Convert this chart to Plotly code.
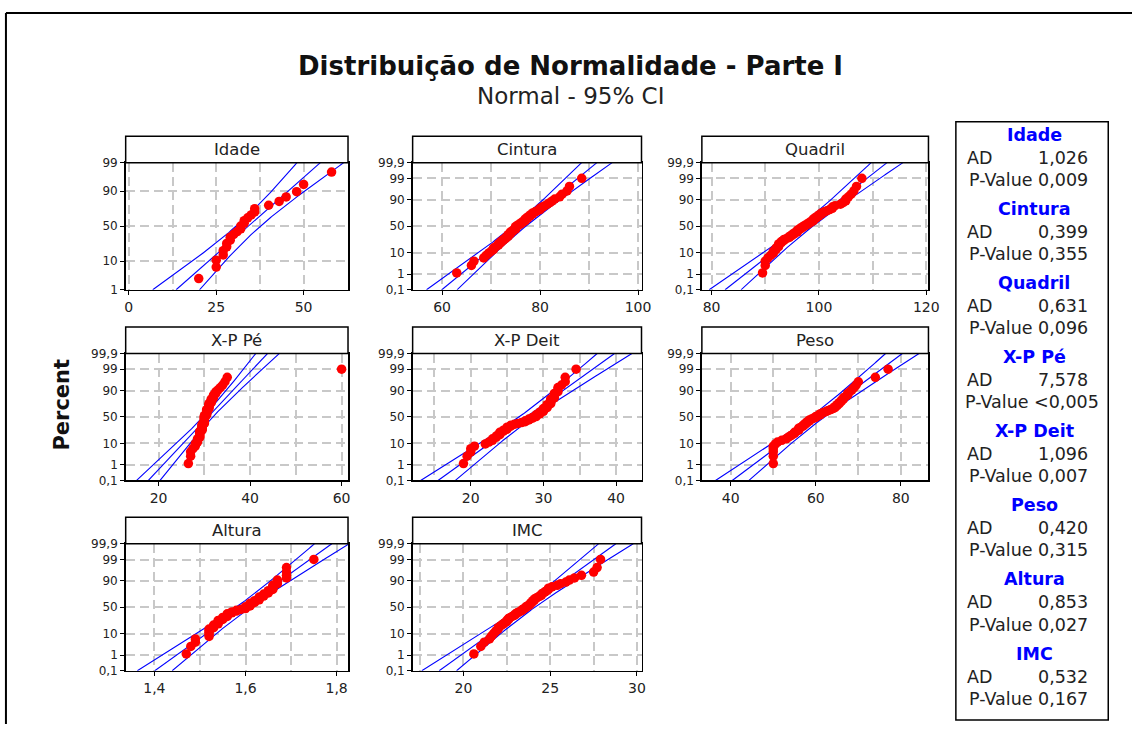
import math
import plotly.graph_objects as go

W, H = 1143, 731

titles = ["Idade", "Cintura", "Quadril", "X-P Pé", "X-P Deit", "Peso", "Altura", "IMC"]

idade = [20, 25, 25, 27, 27, 28, 28, 29, 29, 30, 31, 32, 32, 33, 33, 34, 35, 36, 36,
         40, 43, 45, 48, 50, 58]

cintura = [63, 66, 66.5, 68.5, 69, 69.5, 70, 70.5, 70.5, 71, 71.5, 71.5, 72, 72, 72.5,
           72.5, 73, 73, 73.5, 73.5, 73.5, 74, 74, 74, 74.5, 74.5, 75, 75, 75, 75,
           75.5, 75.5, 76, 76, 76.5, 76.5, 77, 77, 77, 77.5, 77.5, 78, 78, 78.5, 78.5,
           79, 79.5, 80, 80, 80.5, 81, 81.5, 82, 82.5, 83, 84, 84.5, 85.5, 86, 88.5]

quadril = [89.5, 90, 90, 90.5, 91, 91.5, 91.5, 92, 92, 92.5, 92.5, 92.5, 93, 93, 93.5,
           93.5, 94, 94.5, 94.5, 95, 95, 95.5, 95.5, 96, 96, 96, 96.5, 96.5, 97, 97,
           97.5, 97.5, 98, 98, 98.5, 98.5, 99, 99, 99, 99.5, 99.5, 100, 100, 100.5,
           100.5, 101, 101.5, 102, 102.5, 102.5, 103, 104, 104.5, 105, 105, 105.5, 106,
           106.5, 107, 108]

xp_pe = [26.5, 27, 27, 27.5, 28, 28, 28.5, 28.5, 28.5, 29, 29, 29, 29, 29, 29, 29.5,
         29.5, 29.5, 29.5, 29.5, 29.5, 29.5, 30, 30, 30, 30, 30, 30, 30, 30, 30, 30,
         30.5, 30.5, 30.5, 30.5, 30.5, 30.5, 30.5, 31, 31, 31, 31, 31, 31, 31.5, 31.5,
         31.5, 31.5, 32, 32, 32, 32.5, 32.5, 33, 33.5, 34, 34.5, 35, 60]

xp_deit = [19, 19.5, 20, 20, 20.5, 22, 22.5, 23, 23, 23.5, 23.5, 24, 24, 24, 24.5,
           24.5, 25, 25, 25, 25.5, 25.5, 26, 26.5, 27, 27.5, 27.5, 28, 28, 28.5, 28.5,
           29, 29, 29, 29.5, 29.5, 29.5, 30, 30, 30, 30, 30.5, 30.5, 30.5, 30.5, 31,
           31, 31, 31, 31, 31.5, 31.5, 31.5, 31.5, 32, 32, 32, 32.5, 33, 33, 34.5]

peso = [50, 50, 50, 50, 50, 50.5, 51, 52, 53, 53.5, 54, 54.5, 55, 55, 55.5, 56, 56,
        56, 56.5, 57, 57, 57.5, 57.5, 58, 58, 58.5, 58.5, 59, 59.5, 60, 60, 60.5, 61,
        61, 61.5, 62, 62.5, 63, 63.5, 64, 64.5, 64.5, 65, 65, 65.5, 65.5, 66, 66,
        66.5, 66.5, 67, 67.5, 67.5, 68, 68.5, 69, 69.5, 70, 74, 77]

altura = [1.47, 1.48, 1.49, 1.49, 1.52, 1.52, 1.52, 1.52, 1.52, 1.53, 1.53, 1.53, 1.54,
          1.54, 1.54, 1.54, 1.55, 1.55, 1.55, 1.56, 1.56, 1.56, 1.56, 1.57, 1.57, 1.58,
          1.58, 1.59, 1.60, 1.60, 1.60, 1.61, 1.61, 1.61, 1.61, 1.62, 1.62, 1.62, 1.63,
          1.63, 1.63, 1.63, 1.64, 1.64, 1.64, 1.65, 1.65, 1.65, 1.66, 1.66, 1.66, 1.66,
          1.67, 1.67, 1.67, 1.69, 1.69, 1.69, 1.69, 1.75]

imc = [20.6, 21.0, 21.2, 21.5, 21.6, 21.7, 21.8, 21.9, 22.0, 22.0, 22.1, 22.2, 22.3,
       22.4, 22.5, 22.5, 22.6, 22.6, 22.7, 22.8, 22.9, 23.0, 23.0, 23.1, 23.2, 23.3,
       23.4, 23.4, 23.5, 23.6, 23.6, 23.7, 23.8, 23.8, 23.9, 23.9, 24.0, 24.0, 24.1,
       24.1, 24.2, 24.3, 24.4, 24.5, 24.5, 24.6, 24.7, 24.8, 24.9, 24.9, 25.1, 25.4,
       25.6, 25.9, 26.1, 26.4, 26.8, 27.5, 27.7, 27.9]

ad_values = ["1,026", "0,399", "0,631", "7,578", "1,096", "0,420", "0,853", "0,532"]
p_values = ["0,009", "0,355", "0,096", "<0,005", "0,007", "0,315", "0,027", "0,167"]

x_ticks = [[0, 25, 50], [60, 80, 100], [80, 100, 120], [20, 40, 60],
           [20, 30, 40], [40, 60, 80], [1.4, 1.6, 1.8], [20, 25, 30]]
pct_ticks_full = [0.1, 1, 10, 50, 90, 99, 99.9]
pct_ticks_short = [1, 10, 50, 90, 99]

series = [idade, cintura, quadril, xp_pe, xp_deit, peso, altura, imc]

# ---------------- layout settings (pixel geometry) ----------------
x_ranges = [[-0.9, 62.7], [54.0, 100.7], [78.2, 120.4], [12.8, 61.4],
            [12.0, 43.5], [33.2, 86.5], [1.337, 1.825], [17.07, 30.26]]
col_px = [(126, 350.7), (416, 647.3), (708.3, 937.3)]
row_px = [(158.7, 288.3), (353.3, 482.7), (547.3, 676.7)]
HEADER_H = 27

FONT = "Tahoma, 'DejaVu Sans', Verdana, sans-serif"
BLUE = "#0000FF"
RED = "#FF0000"
GRID = "#C8C8C8"
GRID_DASH = "9px,5px"


def norm_ppf(p):
    a = [-3.969683028665376e+01, 2.209460984245205e+02, -2.759285104469687e+02,
         1.383577518672690e+02, -3.066479806614716e+01, 2.506628277459239e+00]
    b = [-5.447609879822406e+01, 1.615858368580409e+02, -1.556989798598866e+02,
         6.680131188771972e+01, -1.328068155288572e+01]
    c = [-7.784894002430293e-03, -3.223964580411365e-01, -2.400758277161838e+00,
         -2.549671010243244e+00, 4.374664141464968e+00, 2.938163982698783e+00]
    d = [7.784695709041462e-03, 3.224671290700398e-01, 2.445134137142996e+00,
         3.754408661907416e+00]
    plow = 0.02425
    if p < plow:
        q = math.sqrt(-2 * math.log(p))
        return (((((c[0]*q+c[1])*q+c[2])*q+c[3])*q+c[4])*q+c[5]) / \
               ((((d[0]*q+d[1])*q+d[2])*q+d[3])*q+1)
    if p <= 1 - plow:
        q = p - 0.5
        r = q * q
        return (((((a[0]*r+a[1])*r+a[2])*r+a[3])*r+a[4])*r+a[5])*q / \
               (((((b[0]*r+b[1])*r+b[2])*r+b[3])*r+b[4])*r+1)
    q = math.sqrt(-2 * math.log(1 - p))
    return -(((((c[0]*q+c[1])*q+c[2])*q+c[3])*q+c[4])*q+c[5]) / \
            ((((d[0]*q+d[1])*q+d[2])*q+d[3])*q+1)


def fmt_num(v):
    return ("%g" % v).replace(".", ",")


def px_x(px):
    return px / W


def px_y(py):
    return 1 - py / H


fig = go.Figure()
shapes = []
annotations = []

for k, (name, data) in enumerate(zip(titles, series)):
    r, c = divmod(k, 3)
    ax = "" if k == 0 else str(k + 1)
    xa, ya = "x" + ax, "y" + ax
    vals = sorted(data)
    n = len(vals)
    # median-rank plotting positions (Benard)
    zs = [norm_ppf((i + 1 - 0.3) / (n + 0.3)) for i in range(n)]
    mean = sum(vals) / n
    sd = math.sqrt(sum((v - mean) ** 2 for v in vals) / (n - 1))

    pticks = pct_ticks_short if k == 0 else pct_ticks_full
    zlo, zhi = norm_ppf(pticks[0] / 100), norm_ppf(pticks[-1] / 100)

    zgrid = [zlo + (zhi - zlo) * j / 120 for j in range(121)]
    center = [mean + sd * z for z in zgrid]
    half = [1.96 * sd * math.sqrt((1 + z * z / 2) / n) for z in zgrid]
    lower = [cc - h for cc, h in zip(center, half)]
    upper = [cc + h for cc, h in zip(center, half)]

    for xs in (lower, center, upper):
        fig.add_trace(go.Scatter(x=xs, y=zgrid, mode="lines", xaxis=xa, yaxis=ya,
                                 line=dict(color=BLUE, width=1.1), showlegend=False,
                                 hoverinfo="skip"))
    fig.add_trace(go.Scatter(x=vals, y=zs, mode="markers", xaxis=xa, yaxis=ya,
                             marker=dict(color=RED, size=9.5, line=dict(width=0)),
                             showlegend=False))

    x0, x1 = col_px[c]
    y0, y1 = row_px[r]
    grid = dict(showgrid=True, gridcolor=GRID, gridwidth=2, griddash=GRID_DASH)
    xt = x_ticks[k]
    step = (xt[1] - xt[0]) / 2
    fig.layout["xaxis" + ax] = dict(
        domain=[px_x(x0), px_x(x1)], anchor=ya, range=x_ranges[k],
        tickvals=xt, ticktext=[fmt_num(v) for v in xt],
        ticks="outside", ticklen=4, tickcolor="black", tickwidth=1,
        showline=True, mirror=True, linecolor="black", linewidth=1.5,
        zeroline=False, tickfont=dict(family=FONT, size=14, color="#222"),
        minor=dict(dtick=step, tick0=xt[0], showgrid=True, gridcolor=GRID,
                   griddash=GRID_DASH, gridwidth=2, ticks=""),
        fixedrange=True, **grid)
    fig.layout["yaxis" + ax] = dict(
        domain=[px_y(y1), px_y(y0)], anchor=xa, range=[zlo, zhi],
        tickvals=[norm_ppf(p / 100) for p in pticks],
        ticktext=[fmt_num(p) for p in pticks],
        ticks="outside", ticklen=4, tickcolor="black", tickwidth=1,
        showline=True, mirror=True, linecolor="black", linewidth=1.5,
        zeroline=False, tickfont=dict(family=FONT, size=12, color="#222"),
        fixedrange=True, **grid)

    # header box
    shapes.append(dict(type="rect", xref="paper", yref="paper",
                       x0=px_x(x0), x1=px_x(x1), y0=px_y(y0), y1=px_y(y0 - HEADER_H),
                       line=dict(color="black", width=1.5), fillcolor="white",
                       layer="above"))
    annotations.append(dict(text=name, xref="paper", yref="paper",
                            x=px_x((x0 + x1) / 2), y=px_y(y0 - HEADER_H / 2),
                            xanchor="center", yanchor="middle", showarrow=False,
                            font=dict(family=FONT, size=16.5, color="#222")))

# outer frame lines (left and top)
shapes.append(dict(type="line", xref="paper", yref="paper", x0=px_x(5), x1=px_x(5),
                   y0=0, y1=px_y(6), line=dict(color="black", width=2)))
shapes.append(dict(type="line", xref="paper", yref="paper", x0=px_x(5), x1=1,
                   y0=px_y(6), y1=px_y(6), line=dict(color="black", width=2)))

# statistics box
BOX_L, BOX_R, BOX_T, BOX_B = 965, 1119, 117, 727
shapes.append(dict(type="rect", xref="paper", yref="paper",
                   x0=px_x(BOX_L), x1=px_x(BOX_R), y0=px_y(BOX_B), y1=px_y(BOX_T),
                   line=dict(color="black", width=1.5)))
for k, name in enumerate(titles):
    ty = 130 + 75.6 * k
    annotations.append(dict(text="<b>%s</b>" % name, xref="paper", yref="paper",
                            x=px_x((BOX_L + BOX_R) / 2 + 2), y=px_y(ty),
                            xanchor="center", yanchor="middle", showarrow=False,
                            font=dict(family=FONT, size=17.5, color=BLUE)))
    annotations.append(dict(text="AD", xref="paper", yref="paper",
                            x=px_x(974), y=px_y(ty + 23.5), xanchor="left",
                            yanchor="middle", showarrow=False,
                            font=dict(family=FONT, size=17.5, color="#222")))
    annotations.append(dict(text=ad_values[k], xref="paper", yref="paper",
                            x=px_x(1101), y=px_y(ty + 23.5), xanchor="right",
                            yanchor="middle", showarrow=False,
                            font=dict(family=FONT, size=17.5, color="#222")))
    pv_right = 1112 if p_values[k].startswith("<") else 1101
    annotations.append(dict(text="P-Value " + p_values[k], xref="paper", yref="paper",
                            x=px_x(pv_right), y=px_y(ty + 46), xanchor="right",
                            yanchor="middle", showarrow=False,
                            font=dict(family=FONT, size=17.5, color="#222")))

# titles
annotations.append(dict(text="<b>Distribuição de Normalidade - Parte I</b>",
                        xref="paper", yref="paper", x=px_x(576), y=px_y(60),
                        xanchor="center", yanchor="middle", showarrow=False,
                        font=dict(family=FONT, size=26, color="#111")))
annotations.append(dict(text="Normal - 95% CI", xref="paper", yref="paper",
                        x=px_x(576), y=px_y(91), xanchor="center", yanchor="middle",
                        showarrow=False, font=dict(family=FONT, size=23, color="#222")))
annotations.append(dict(text="<b>Percent</b>", xref="paper", yref="paper",
                        x=px_x(62), y=px_y(405), xanchor="center", yanchor="middle",
                        textangle=-90, showarrow=False,
                        font=dict(family=FONT, size=21, color="#111")))

fig.update_layout(width=W, height=H, margin=dict(l=0, r=0, t=0, b=0),
                  paper_bgcolor="white", plot_bgcolor="white",
                  shapes=shapes, annotations=annotations, showlegend=False,
                  hovermode=False, separators=",.")

# remove the browser's default page margin so the figure fills the window exactly
fig.write_html("out.html",
               config={"displayModeBar": False, "staticPlot": True},
               post_script="document.body.style.margin='0';"
                           "document.body.style.overflow='hidden';")
